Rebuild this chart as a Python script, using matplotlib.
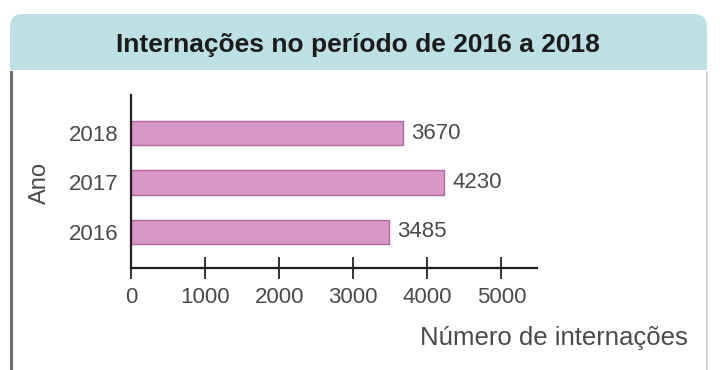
import matplotlib
matplotlib.use("Agg")
import matplotlib.pyplot as plt
from matplotlib.patches import FancyBboxPatch, Rectangle
from matplotlib.transforms import IdentityTransform

# data
anos = ["2016", "2017", "2018"]
internacoes = [3485, 4230, 3670]
rotulos = ["3485", "4230", "3670"]
x_ticks = [0, 1000, 2000, 3000, 4000, 5000]
x_ticklabels = ["0", "1000", "2000", "3000", "4000", "5000"]

plt.rcParams["font.family"] = ["Liberation Sans", "DejaVu Sans"]
gray_txt = "#4a4a4a"

fig = plt.figure(figsize=(7.2, 3.7), dpi=100)
H = 370

# header + white panel (pixel coords, y from top)
def px(y):
    return H - y

header = FancyBboxPatch((10, px(84)), 697, 70, boxstyle="round,pad=0,rounding_size=13",
                        transform=IdentityTransform(), facecolor="#bde0e5",
                        edgecolor="none", zorder=0)
fig.patches.append(header)
body = Rectangle((10, -2), 697, px(70) + 2, transform=IdentityTransform(),
                 facecolor="white", edgecolor="none", zorder=1)
fig.patches.append(body)
fig.lines.append(plt.Line2D([11, 11], [-2, px(72)], transform=IdentityTransform(),
                            color="#6f6f6f", lw=2.2, zorder=2))
fig.lines.append(plt.Line2D([707, 707], [-2, px(72)], transform=IdentityTransform(),
                            color="#c8c8c8", lw=1.2, zorder=2))

fig.text(358 / 720, px(45) / H, "Internações no período de 2016 a 2018",
         ha="center", va="center", fontsize=19, fontweight="bold", color="#1b1b1b")

ax = fig.add_axes([131 / 720, px(268) / H, 406 / 720, (268 - 95) / H])
ax.set_zorder(3)
ax.patch.set_alpha(0)

y = range(len(anos))
ax.barh(y, internacoes, height=0.5, color="#da95c9", edgecolor="#b06a9e", linewidth=1)
for i, v in enumerate(internacoes):
    ax.text(v + 110, i, rotulos[i], va="center", ha="left", fontsize=16, color=gray_txt)

ax.set_xlim(0, 5480)
ax.set_ylim(-0.73, 2.77)
ax.set_yticks(list(y))
ax.set_yticklabels(anos, fontsize=16, color=gray_txt)
ax.set_xticks(x_ticks)
ax.set_xticklabels(x_ticklabels, fontsize=16, color=gray_txt)
ax.tick_params(axis="y", length=0, pad=9)
ax.tick_params(axis="x", direction="inout", length=16, width=1.3, color="#222222", pad=6)

for s in ["top", "right"]:
    ax.spines[s].set_visible(False)
ax.spines["left"].set_linewidth(1.6)
ax.spines["bottom"].set_linewidth(1.6)
ax.spines["left"].set_color("#222222")
ax.spines["bottom"].set_color("#222222")

fig.text(40 / 720, px(183) / H, "Ano", rotation=90, ha="center", va="center",
         fontsize=17, color=gray_txt)
fig.text(688 / 720, px(338) / H, "Número de internações", ha="right", va="center",
         fontsize=18.5, color=gray_txt)

fig.savefig("out.png", dpi=100)
